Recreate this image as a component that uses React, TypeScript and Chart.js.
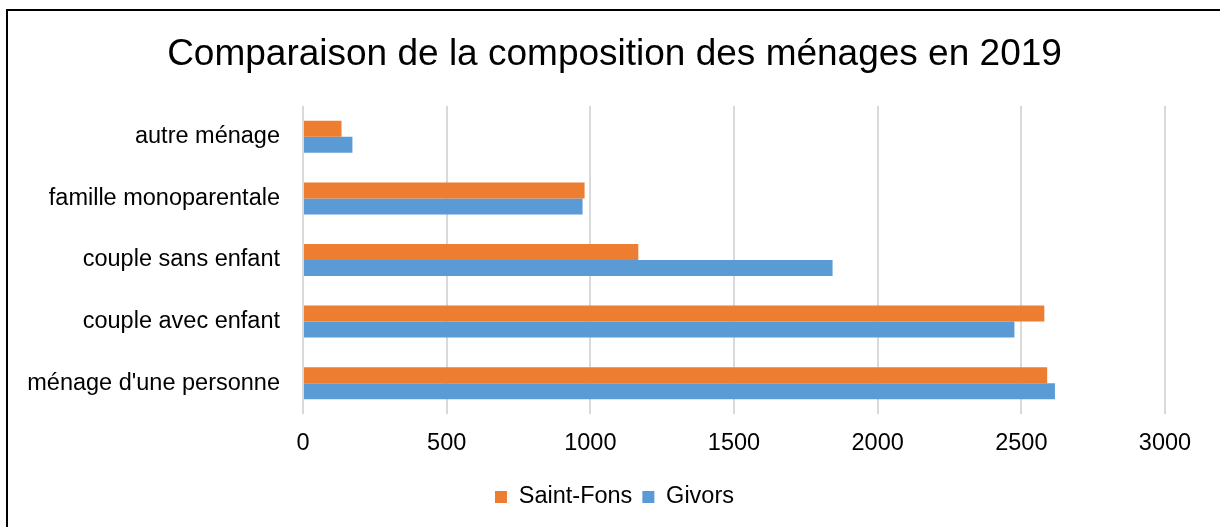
import React, { useEffect, useRef } from "react";
import { Chart, registerables } from "chart.js";

Chart.register(...registerables);

const categories = [
  "autre ménage",
  "famille monoparentale",
  "couple sans enfant",
  "couple avec enfant",
  "ménage d'une personne",
];
const saintFons = [134, 980, 1167, 2580, 2590];
const givors = [172, 973, 1843, 2476, 2617];
const seriesNames = ["Saint-Fons", "Givors"];
const xMin = 0;
const xMax = 3000;
const xStep = 500;
const titleText = "Comparaison de la composition des ménages en 2019";

const FONT = "'Liberation Sans', Arial, sans-serif";

const unclipLabels = {
  id: "unclipLabels",
  afterLayout(chart: any) {
    if (chart.scales && chart.scales.y) chart.scales.y.left = 0;
  },
};

export default function App() {
  const ref = useRef<HTMLCanvasElement | null>(null);

  useEffect(() => {
    if (!ref.current) return;
    const chart = new Chart(ref.current, {
      type: "bar",
      data: {
        labels: categories,
        datasets: [
          {
            label: seriesNames[0],
            data: saintFons,
            backgroundColor: "#ED7D31",
            borderWidth: 0,
          },
          {
            label: seriesNames[1],
            data: givors,
            backgroundColor: "#5B9BD5",
            borderWidth: 0,
          },
        ],
      },
      plugins: [unclipLabels],
      options: {
        indexAxis: "y",
        animation: false,
        responsive: false,
        devicePixelRatio: 1,
        datasets: {
          bar: { categoryPercentage: 0.52, barPercentage: 1 },
        },
        layout: { padding: { left: 64, right: 55, top: 0, bottom: 8.25 } },
        scales: {
          x: {
            min: xMin,
            max: xMax,
            ticks: {
              stepSize: xStep,
              color: "#000",
              padding: 15.9,
              font: { family: FONT, size: 23.5 },
              callback: (v: any) => String(v),
            },
            grid: { color: "#d9d9d9", lineWidth: 2, drawTicks: false },
            border: { display: false },
            afterFit: (scale: any) => {
              scale.height = 61.25;
            },
          },
          y: {
            ticks: {
              color: "#000",
              padding: 23,
              font: { family: FONT, size: 23.5 },
            },
            grid: { display: false, drawTicks: false },
            border: { display: false },
            afterFit: (scale: any) => {
              scale.width = 239;
            },
          },
        },
        plugins: {
          title: {
            display: true,
            text: titleText,
            color: "#000",
            font: { family: FONT, size: 37, weight: "normal" },
            padding: { top: 32.8, bottom: 28.8 },
          },
          legend: {
            position: "bottom",
            labels: {
              color: "#000",
              boxWidth: 12,
              boxHeight: 12,
              padding: 10,
              font: { family: FONT, size: 23.5 },
            },
          },
          tooltip: { enabled: false },
        },
      },
    });
    return () => chart.destroy();
  }, []);

  return (
    <div
      style={{
        position: "fixed",
        left: 0,
        top: 0,
        width: 1220,
        height: 527,
        overflow: "hidden",
        background: "#fff",
      }}
    >
      <div
        style={{
          position: "absolute",
          left: 6,
          top: 9,
          width: 2000,
          height: 2000,
          borderLeft: "2px solid #000",
          borderTop: "2px solid #000",
        }}
      />
      <canvas
        ref={ref}
        width={1220}
        height={527}
        style={{ position: "absolute", left: 0, top: 0, width: 1220, height: 527 }}
      />
    </div>
  );
}
